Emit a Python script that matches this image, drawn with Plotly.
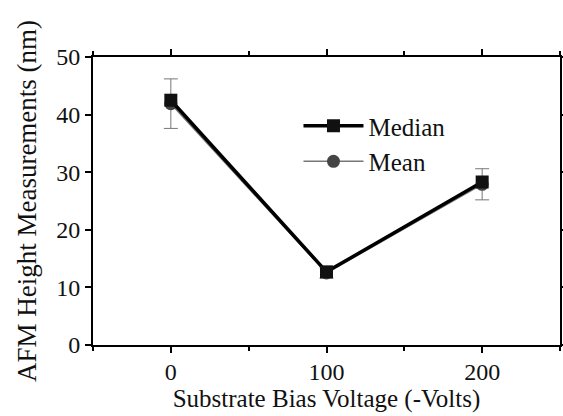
import plotly.graph_objects as go

voltage = [0, 100, 200]
median = [42.5, 12.7, 28.3]
mean = [41.9, 12.5, 27.9]
mean_err = [4.3, 0.9, 2.7]

x_ticks = [0, 100, 200]
y_ticks = [0, 10, 20, 30, 40, 50]

FONT = "Liberation Serif"

fig = go.Figure()
fig.add_trace(go.Scatter(
    x=voltage, y=mean, name="Mean", mode="lines+markers",
    line=dict(color="#777777", width=1.5),
    marker=dict(symbol="circle", size=13, color="#444444"),
    error_y=dict(type="data", array=mean_err, color="#777777", thickness=1, width=7),
))
fig.add_trace(go.Scatter(
    x=voltage, y=median, name="Median", mode="lines+markers",
    line=dict(color="black", width=3.5),
    marker=dict(symbol="square", size=13, color="#111111"),
))

axis_common = dict(showgrid=False, zeroline=False, showline=True, linecolor="black",
                   linewidth=2, tickcolor="black", tickwidth=2, mirror="ticks")

fig.update_layout(
    width=563, height=416,
    margin=dict(l=93, r=3, t=57, b=71),
    paper_bgcolor="white", plot_bgcolor="white",
    font=dict(family=FONT, size=24, color="#111111"),
    xaxis=dict(range=[-50, 250], tickvals=x_ticks, ticks="outside", ticklen=6,
               ticklabelstandoff=-2, automargin="bottom",
               minor=dict(dtick=50, tick0=-50, ticks="outside", ticklen=4,
                          tickcolor="black", tickwidth=2),
               title=dict(text="Substrate Bias Voltage (-Volts)", standoff=2,
                          font=dict(size=25)),
               **axis_common),
    yaxis=dict(range=[0, 50], tickvals=y_ticks, ticks="outside", ticklen=6,
               automargin="left",
               title=dict(text="AFM Height Measurements (nm)", standoff=12,
                          font=dict(size=27)),
               **axis_common),
    legend=dict(x=0.44, y=0.84, xanchor="left", yanchor="top", traceorder="reversed",
                bgcolor="rgba(0,0,0,0)", font=dict(size=25), itemwidth=60,
                tracegroupgap=0),
)

fig.write_html("out.html")
